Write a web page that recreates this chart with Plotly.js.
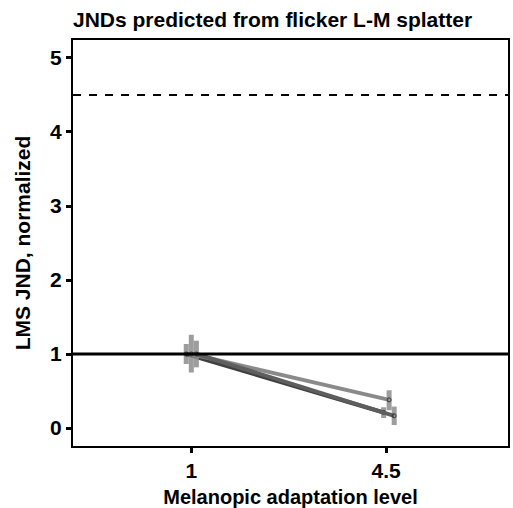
<!DOCTYPE html>
<html>
<head>
<meta charset="utf-8">
<script src="https://cdn.plot.ly/plotly-3.0.1.min.js"></script>
<style>html,body{margin:0;padding:0;background:#fff;}#chart{width:513px;height:508px;}</style>
</head>
<body>
<div id="chart"></div>
<script>
// Category positions (1 and 4.5 melanopic levels), with dodge offsets per series
var levels = [1, 2];
var levelLabels = ["1", "4.5"];
var yTicks = [0, 1, 2, 3, 4, 5];

var seriesNames = ["Subject A", "Subject B", "Subject C"];
var seriesX = [
  [0.974, 1.987],
  [1.000, 2.015],
  [1.026, 2.041]
];
var seriesY = [
  [1.0, 0.21],
  [1.0, 0.38],
  [1.0, 0.165]
];
var errPlus = [
  [0.135, 0.07],
  [0.26, 0.13],
  [0.18, 0.125]
];
var errMinus = [
  [0.135, 0.075],
  [0.25, 0.14],
  [0.18, 0.125]
];
var lineColors = ["#404040", "#8a8a8a", "#5e5e5e"];

var refSolid = 1;
var refDashed = 4.5;

var traces = [];
for (var i = 0; i < seriesNames.length; i++) {
  traces.push({
    type: "scatter",
    mode: "lines+markers",
    name: seriesNames[i],
    x: seriesX[i],
    y: seriesY[i],
    line: {color: lineColors[i], width: 4},
    marker: {size: 4, color: "rgba(0,0,0,0)", line: {color: "#333", width: 1}},
    error_y: {type: "data", symmetric: false, array: errPlus[i], arrayminus: errMinus[i],
      color: "rgba(140,140,140,0.85)", thickness: 5, width: 0},
    showlegend: false
  });
}

var layout = {
  width: 513, height: 508,
  margin: {l: 73, r: 5, t: 40, b: 62},
  paper_bgcolor: "#fff", plot_bgcolor: "#fff",
  font: {family: "Liberation Sans, Arial, sans-serif", color: "#000"},
  title: {text: "<b>JNDs predicted from flicker L-M splatter</b>", font: {size: 21, color: "#000"},
    x: 0, xref: "paper", xanchor: "left", y: 26, yref: "container", yanchor: "middle"},
  xaxis: {
    range: [0.393, 2.625],
    tickmode: "array", tickvals: levels, ticktext: levelLabels,
    showgrid: false, zeroline: false,
    showline: true, linecolor: "#000", linewidth: 2, mirror: true,
    ticks: "outside", ticklen: 5, tickwidth: 3, tickcolor: "#000",
    tickfont: {family: "Liberation Sans", size: 21, color: "#000", weight: 700},
    title: {text: "<b>Melanopic adaptation level</b>", font: {size: 20, color: "#000"}, standoff: 9}
  },
  yaxis: {
    range: [-0.243, 5.243],
    tickmode: "array", tickvals: yTicks, ticktext: yTicks.map(String),
    showgrid: false, zeroline: false,
    showline: true, linecolor: "#000", linewidth: 2, mirror: true,
    ticks: "outside", ticklen: 5, tickwidth: 3, tickcolor: "#000",
    tickfont: {family: "Liberation Sans", size: 21, color: "#000", weight: 700},
    title: {text: "<b>LMS JND, normalized</b>", font: {size: 21, color: "#000"}, standoff: 14}
  },
  shapes: [
    {type: "line", xref: "paper", x0: 0, x1: 1, yref: "y", y0: refSolid, y1: refSolid,
      line: {color: "#000", width: 3}},
    {type: "line", xref: "paper", x0: 0, x1: 1, yref: "y", y0: refDashed, y1: refDashed,
      line: {color: "#000", width: 2, dash: "8px,8px"}}
  ]
};

Plotly.newPlot("chart", traces, layout, {displayModeBar: false, staticPlot: true});
</script>
</body>
</html>
